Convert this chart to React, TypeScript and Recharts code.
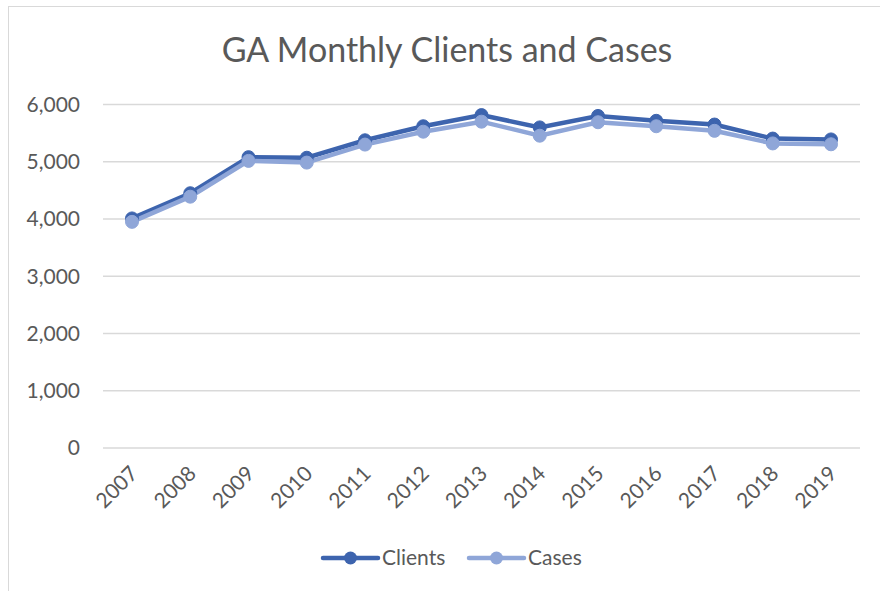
import React from 'react';
import { LineChart, Line, XAxis, YAxis, CartesianGrid } from 'recharts';

const years = ['2007', '2008', '2009', '2010', '2011', '2012', '2013', '2014', '2015', '2016', '2017', '2018', '2019'];
const clients = [4010, 4450, 5080, 5070, 5375, 5620, 5815, 5600, 5800, 5715, 5650, 5405, 5390];
const cases = [3950, 4390, 5015, 4985, 5300, 5525, 5700, 5455, 5690, 5620, 5540, 5320, 5305];
const yTicks = [0, 1000, 2000, 3000, 4000, 5000, 6000];

const CLIENTS_COLOR = '#3D64AE';
const CASES_COLOR = '#8FA6D8';
const TEXT = '#595959';
const FONT = 'Lato, "Open Sans", sans-serif';

const data = years.map((y, i) => ({ year: y, clients: clients[i], cases: cases[i] }));

const XTick = (props: any) => {
  const { x, y, payload } = props;
  const tx = x + 7;
  const ty = y + 27;
  return (
    <text
      x={tx}
      y={ty}
      transform={`rotate(-45, ${tx}, ${ty})`}
      textAnchor="end"
      fill={TEXT}
      fontSize={21}
      fontFamily={FONT}
    >
      {payload.value}
    </text>
  );
};

const fmt = (v: number) => v.toLocaleString('en-US');

const legendItems = [
  { name: 'Clients', color: CLIENTS_COLOR, x: 323 },
  { name: 'Cases', color: CASES_COLOR, x: 469 },
];

export default function App() {
  return (
    <div style={{ position: 'fixed', left: 0, top: 0, width: 880, height: 591, background: '#fff', overflow: 'hidden' }}>
      <div
        style={{
          position: 'absolute',
          left: 8,
          top: 6,
          width: 900,
          height: 620,
          border: '1.5px solid #d9d9d9',
          boxSizing: 'border-box',
        }}
      />
      <svg width={880} height={80} style={{ position: 'absolute', left: 0, top: 0 }}>
        <text x={447} y={62} textAnchor="middle" fill={TEXT} fontSize={34} fontFamily={FONT}>
          GA Monthly Clients and Cases
        </text>
      </svg>
      <div style={{ position: 'absolute', left: 0, top: 0 }}>
        <LineChart width={880} height={591} data={data} margin={{ top: 104.5, right: 20, left: 0, bottom: 83 }}>
          <CartesianGrid vertical={false} stroke="#d9d9d9" strokeWidth={1.5} />
          <XAxis
            dataKey="year"
            axisLine={false}
            tickLine={false}
            tickSize={0}
            tickMargin={0}
            height={60}
            interval={0}
            padding={{ left: 29, right: 29 }}
            tick={<XTick />}
          />
          <YAxis
            domain={[0, 6000]}
            ticks={yTicks}
            width={103}
            axisLine={false}
            tickLine={false}
            tickSize={0}
            tickMargin={23}
            tickFormatter={fmt}
            tick={{ fill: TEXT, fontSize: 21, fontFamily: FONT }}
          />
          <Line
            type="linear"
            dataKey="clients"
            stroke={CLIENTS_COLOR}
            strokeWidth={4.5}
            dot={{ r: 6.5, fill: CLIENTS_COLOR, stroke: CLIENTS_COLOR, strokeWidth: 1 }}
            isAnimationActive={false}
          />
          <Line
            type="linear"
            dataKey="cases"
            stroke={CASES_COLOR}
            strokeWidth={4.5}
            dot={{ r: 6.5, fill: CASES_COLOR, stroke: CASES_COLOR, strokeWidth: 1 }}
            isAnimationActive={false}
          />
        </LineChart>
      </div>
      <svg width={880} height={40} style={{ position: 'absolute', left: 0, top: 538 }}>
        {legendItems.map((it) => (
          <g key={it.name}>
            <line x1={it.x} y1={20} x2={it.x + 55} y2={20} stroke={it.color} strokeWidth={4.5} strokeLinecap="round" />
            <circle cx={it.x + 27.5} cy={20} r={6.5} fill={it.color} />
            <text x={it.x + 59} y={27} fill={TEXT} fontSize={21} fontFamily={FONT}>
              {it.name}
            </text>
          </g>
        ))}
      </svg>
    </div>
  );
}
